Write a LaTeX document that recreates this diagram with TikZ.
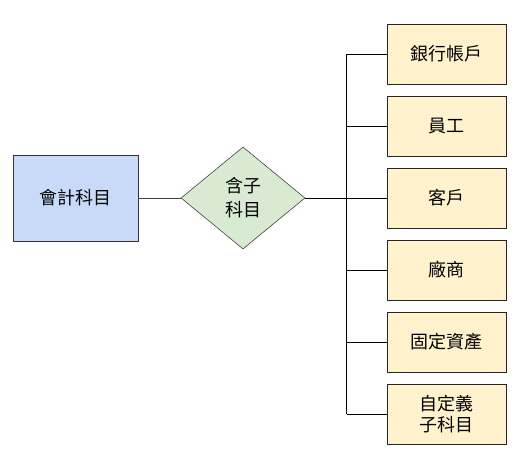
\documentclass[tikz,border=0pt]{standalone}
\usepackage{fontspec}
\newfontfamily\cjk{Noto Sans CJK TC}
\definecolor{acctblue}{RGB}{201,218,248}
\definecolor{subgreen}{RGB}{217,234,211}
\definecolor{itemyellow}{RGB}{255,242,204}
\usetikzlibrary{shapes.geometric,positioning}

\begin{document}
\begin{tikzpicture}[x=0.75pt,y=-0.75pt,node distance=8.6pt]
  \tikzstyle{acct}=[rectangle,draw=black!80,fill=acctblue,minimum width=93.75pt,minimum height=64.5pt,align=center,font=\cjk\fontsize{13.5}{17}\selectfont]
  \tikzstyle{rel}=[diamond,draw=black!80,fill=subgreen,inner sep=0pt,minimum width=93pt,minimum height=76.5pt,align=center,font=\cjk\fontsize{13.5}{18}\selectfont]
  \tikzstyle{item}=[rectangle,draw=black!85,fill=itemyellow,minimum width=89.25pt,minimum height=45pt,align=center,font=\cjk\fontsize{13.5}{16}\selectfont]
  \useasboundingbox (0,0) rectangle (526,468);

  \node[acct] (acct) at (75.5,198) {會計科目};
  \node[rel] (sub) at (243,198) {含子\\科目};
  \coordinate (trunk) at (346.5,198);

  \node[item] (bank) at (446.5,54) {銀行帳戶};
  \node[item,below=of bank] (staff) {員工};
  \node[item,below=of staff] (client) {客戶};
  \node[item,below=of client] (vendor) {廠商};
  \node[item,below=of vendor] (asset) {固定資產};
  \node[item,below=of asset] (custom) {自定義\\子科目};

  \draw[black!75] (acct) -- (sub);
  \draw[semithick] (sub.east) -- (trunk);
  \draw (trunk |- bank.west) -- (trunk |- custom.west);
  \foreach \n in {bank,staff,client,vendor,asset,custom}
    \draw (trunk |- \n.west) -- (\n.west);
\end{tikzpicture}
\end{document}
